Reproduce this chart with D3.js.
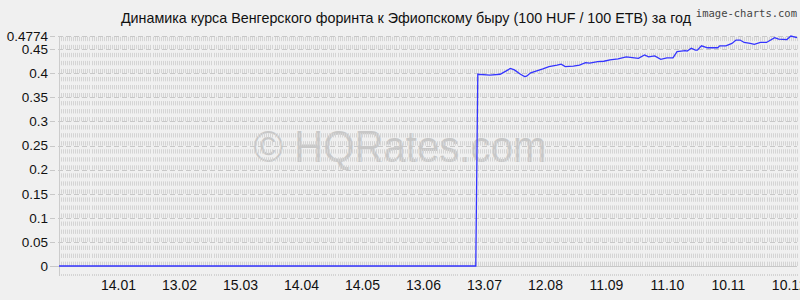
<!DOCTYPE html>
<html><head><meta charset="utf-8">
<script src="https://cdn.jsdelivr.net/npm/d3@7"></script>
<style>
html,body{margin:0;padding:0;background:#f0f0f0;}
svg{display:block;}
</style></head>
<body>
<svg id="c" width="800" height="300"></svg>
<script>
// ---- data ----
const titleText = "Динамика курса Венгерского форинта к Эфиопскому быру (100 HUF / 100 ETB) за год";
const dates = [
 "2024-12-16","2025-07-09",
 "2025-07-10","2025-07-16","2025-07-21","2025-07-24","2025-07-26","2025-07-28","2025-07-31",
 "2025-08-02","2025-08-03","2025-08-05","2025-08-08","2025-08-11","2025-08-14","2025-08-18",
 "2025-08-20","2025-08-22","2025-08-26","2025-08-29","2025-09-01","2025-09-03","2025-09-07",
 "2025-09-10","2025-09-13","2025-09-17","2025-09-21","2025-09-25","2025-09-27","2025-09-30",
 "2025-10-02","2025-10-05","2025-10-08","2025-10-11","2025-10-14","2025-10-16","2025-10-20",
 "2025-10-21","2025-10-23","2025-10-25","2025-10-26","2025-10-28","2025-10-31","2025-11-05",
 "2025-11-06","2025-11-09","2025-11-12","2025-11-14","2025-11-16","2025-11-18","2025-11-21",
 "2025-11-23","2025-11-26","2025-11-29","2025-12-03","2025-12-05","2025-12-09","2025-12-11",
 "2025-12-14"
];
const values = [
 0,0,
 0.398,0.396,0.398,0.405,0.410,0.407,0.398,
 0.393,0.394,0.401,0.405,0.409,0.414,0.417,
 0.419,0.414,0.415,0.417,0.422,0.421,0.424,
 0.425,0.428,0.430,0.434,0.432,0.431,0.438,
 0.434,0.436,0.429,0.432,0.432,0.445,0.447,
 0.446,0.452,0.448,0.448,0.457,0.453,0.453,
 0.457,0.457,0.462,0.469,0.469,0.464,0.462,
 0.460,0.464,0.464,0.474,0.471,0.470,0.4774,
 0.474
];
const yTicks = [0,0.05,0.1,0.15,0.2,0.25,0.3,0.35,0.4,0.45,0.4774];
const yTickLabels = ["0","0.05","0.1","0.15","0.2","0.25","0.3","0.35","0.4","0.45","0.4774"];
const xTickDates = ["2025-01-14","2025-02-13","2025-03-15","2025-04-14","2025-05-14","2025-06-13",
 "2025-07-13","2025-08-12","2025-09-11","2025-10-11","2025-11-10","2025-12-10"];
const xDomain = ["2024-12-16","2025-12-14"];

// ---- chart ----
const parse = d3.timeParse("%Y-%m-%d");
const svg = d3.select("#c");
const L = 59, R = 797, T = 36, B = 266;
const x = d3.scaleTime().domain(xDomain.map(parse)).range([L, R]);
const y = d3.scaleLinear().domain([0, 0.4774]).range([B, T]);

svg.append("rect").attr("width",800).attr("height",300).attr("fill","#f0f0f0");

// watermark
svg.append("text").attr("x",400).attr("y",162).attr("text-anchor","middle")
  .attr("font-family","Liberation Sans, Arial, sans-serif").attr("font-size",44)
  .attr("textLength",293).attr("lengthAdjust","spacingAndGlyphs")
  .attr("fill","#c8c8c8").text("© HQRates.com");

// vertical day grid
const days = d3.timeDay.range(x.domain()[0], d3.timeDay.offset(x.domain()[1],1));
const period = (y(0) - y(0.05)) / 3;
const g = svg.append("g");
g.selectAll("line.v").data(days).join("line").attr("class","v")
  .attr("x1", d => Math.round(x(d)) + 0.5).attr("x2", d => Math.round(x(d)) + 0.5)
  .attr("y1", B).attr("y2", T)
  .attr("stroke", "#d4d4d4").attr("stroke-width", 1)
  .attr("stroke-dasharray", `${(period*0.54).toFixed(2)},${(period*0.46).toFixed(2)}`);
// bottom dotted row
g.selectAll("line.b").data(days).join("line").attr("class","b")
  .attr("x1", d => Math.round(x(d)) + 0.5).attr("x2", d => Math.round(x(d)) + 0.5)
  .attr("y1", 274).attr("y2", 276).attr("stroke","#d4d4d4");

// horizontal grid
svg.append("g").selectAll("line").data(yTicks).join("line")
  .attr("x1", 50).attr("x2", R)
  .attr("y1", d => Math.round(y(d)) + 0.5).attr("y2", d => Math.round(y(d)) + 0.5)
  .attr("stroke", "#c8c8c8")
  .attr("stroke-dasharray", d => d === 0 ? null : "5,3");
// left axis line
svg.append("line").attr("x1",L+0.5).attr("x2",L+0.5).attr("y1",T).attr("y2",276).attr("stroke","#cccccc");

// y axis labels
const ya = svg.append("g").attr("transform",`translate(${L},0)`)
  .call(d3.axisLeft(y).tickValues(yTicks).tickSize(0).tickPadding(11)
    .tickFormat((d,i) => yTickLabels[i]));
ya.select(".domain").remove();
ya.selectAll("text").attr("font-family","Liberation Sans, Arial, sans-serif")
  .attr("font-size",13.5).attr("fill","#111");

// x axis labels
const xa = svg.append("g").attr("transform",`translate(0,${B})`)
  .call(d3.axisBottom(x).tickValues(xTickDates.map(parse)).tickSize(0).tickPadding(14)
    .tickFormat(d3.timeFormat("%d.%m")));
xa.select(".domain").remove();
xa.selectAll("text").attr("font-family","Liberation Sans, Arial, sans-serif")
  .attr("font-size",14).attr("fill","#111");

// line
const line = d3.line().x(d => x(d[0])).y(d => y(d[1]));
svg.append("path").datum(dates.map((d,i) => [parse(d), values[i]]))
  .attr("d", line).attr("fill","none").attr("stroke","#3434ff").attr("stroke-width",1.3);

// title
svg.append("text").attr("x",406).attr("y",23).attr("text-anchor","middle")
  .attr("font-family","Liberation Sans, Arial, sans-serif").attr("font-size",14.3)
  .attr("fill","#111").text(titleText);
svg.append("text").attr("x",797).attr("y",17).attr("text-anchor","end")
  .attr("font-family","DejaVu Sans Mono, monospace").attr("font-size",10.5)
  .attr("fill","#444").text("image-charts.com");
</script>
</body></html>
